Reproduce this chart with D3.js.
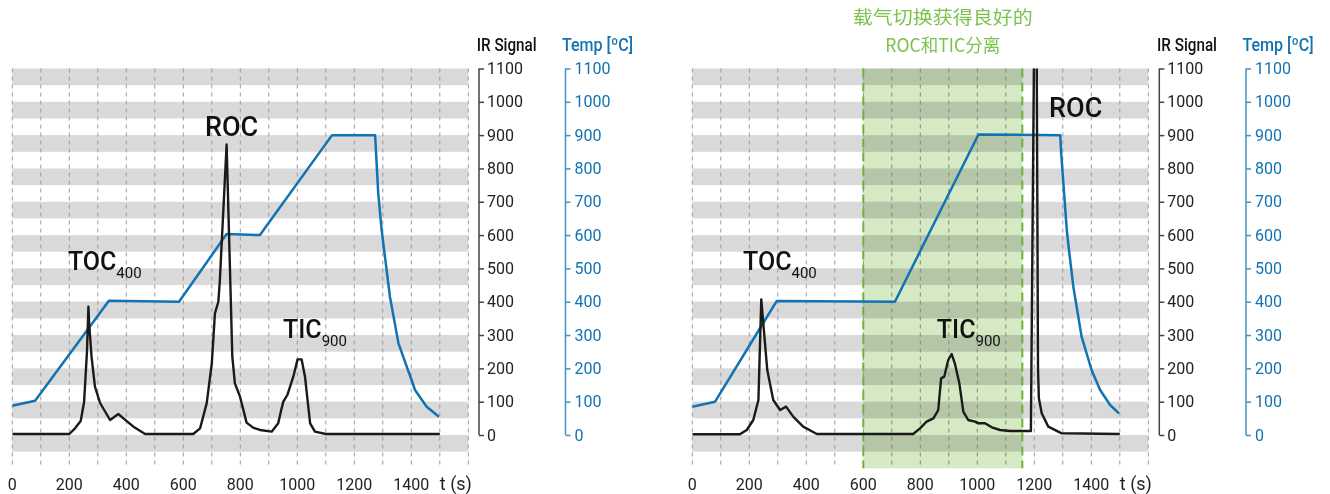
<!DOCTYPE html>
<html><head><meta charset="utf-8">
<script src="https://cdn.jsdelivr.net/npm/d3@7"></script>
<style>
html,body{margin:0;padding:0;background:#fff;}
svg{display:block;font-family:Roboto,"Noto Sans",sans-serif;}
</style></head>
<body><svg id="chart" width="1330" height="494"></svg>
<script>
// ---------- data ----------
const xTicks = [0,200,400,600,800,1000,1200,1400];
const yTicks = [0,100,200,300,400,500,600,700,800,900,1000,1100];
const xUnit = "t (s)";
const irTitle = "IR Signal";
const tempTitle = "Temp [ºC]";

// left panel
const leftIrT = [0,200,220,240,252,262,267,270,278,290,308,343,372,390,425,466,635,659,682,700,711,723,728,752,772,781,799,822,845,869,910,933,945,951,965,986,1001,1015,1027,1045,1062,1100,1500];
const leftIrV = [3,3,20,42,100,250,385,330,235,145,96,45,63,50,25,3,3,20,95,215,365,400,460,872,235,155,115,37,22,15,10,35,80,100,120,175,227,227,175,35,10,3,3];
const leftTempT = [0,80,339,585,752,869,1122,1273,1284,1296,1325,1355,1384,1401,1413,1454,1497];
const leftTempV = [88,103,403,400,603,600,900,900,725,615,415,275,205,165,135,85,55];

// right panel
const rightIrT = [0,167,191,214,232,242,263,284,308,329,354,389,437,775,799,822,846,863,873,884,898,910,921,937,951,968,992,1004,1027,1051,1080,1115,1188,1200,1208,1213,1216,1226,1249,1296,1500];
const rightIrV = [2,2,15,45,105,407,195,105,75,85,55,25,3,3,20,40,50,75,170,175,225,243,215,155,70,45,40,35,35,23,15,12,12,1250,1250,200,110,65,25,5,3];
const rightTempT = [0,80,296,711,1004,1291,1294,1314,1319,1337,1366,1401,1431,1466,1497];
const rightTempV = [85,100,402,400,902,900,850,615,575,445,295,195,135,90,65];

// annotations [text, subscript, t, value]
const leftLabels = [["TOC","400",195,495],["ROC","",676,897],["TIC","900",950,291]];
const rightLabels = [["TOC","400",178,495],["TIC","900",858,291],["ROC","",1252,954]];
const highlightRange = [600,1158];
const titleLines = ["载气切换获得良好的","ROC和TIC分离"];

// ---------- drawing ----------
const svg = d3.select("#chart");
const defs = svg.append("defs");
const black = "#1a1a1a", blue = "#1273b3", blueAxis = "#3f93c8";
const fmt = d3.format("d");

function panel(off, irT, irV, tT, tV, labels, hi, idx){
  const x = d3.scaleLinear().domain([0,1600]).range([12.3+off, 468.3+off]);
  const y = d3.scaleLinear().domain([-100,1100]).range([468.3, 68.5]);
  const g = svg.append("g");
  // bands
  for (let k=0;k<=11;k++){
    g.append("rect").attr("x",x(0)).attr("width",x(1600)-x(0))
     .attr("y",y(k*100)).attr("height",y(k*100-50)-y(k*100)).attr("fill","#d9d9d9");
  }
  // vertical grid
  g.selectAll("line.vg").data(d3.range(0,1601,100)).join("line")
   .attr("x1",d=>x(d)).attr("x2",d=>x(d)).attr("y1",y(1100)).attr("y2",y(-100))
   .attr("stroke","#9a9a9a").attr("stroke-width",1).attr("stroke-dasharray","4,4");
  // highlight
  if (hi){
    g.append("rect").attr("x",x(hi[0])).attr("width",x(hi[1])-x(hi[0]))
     .attr("y",y(1100)).attr("height",y(-100)-y(1100))
     .attr("fill","#d4e9c4").style("mix-blend-mode","multiply");
    hi.forEach(v=>g.append("line").attr("x1",x(v)).attr("x2",x(v)).attr("y1",y(1100)).attr("y2",y(-100))
      .attr("stroke","#6cb43a").attr("stroke-width",2).attr("stroke-dasharray","9,5"));
    const cx = (x(hi[0])+x(hi[1]))/2;
    g.append("text").attr("x",cx).attr("y",24).attr("text-anchor","middle")
     .attr("fill","#7cc24e").style("font-family","'Noto Sans CJK SC'").style("font-size","18.5px")
     .attr("textLength",180).attr("lengthAdjust","spacingAndGlyphs")
     .text(titleLines[0]);
    g.append("text").attr("x",cx).attr("y",51.5).attr("text-anchor","middle")
     .attr("fill","#7cc24e").style("font-family","'Noto Sans CJK SC'").style("font-size","18.5px")
     .attr("textLength",115).attr("lengthAdjust","spacingAndGlyphs")
     .text(titleLines[1]);
  }
  // clip
  const cid = "clip"+idx;
  defs.append("clipPath").attr("id",cid).append("rect")
    .attr("x",x(0)).attr("y",y(1100)).attr("width",x(1600)-x(0)).attr("height",y(-100)-y(1100));
  const line = d3.line().x(d=>x(d[0])).y(d=>y(d[1]));
  g.append("path").attr("clip-path",`url(#${cid})`).attr("d",line(tT.map((t,i)=>[t,tV[i]])))
   .attr("fill","none").attr("stroke",blue).attr("stroke-width",2.5).attr("stroke-linejoin","round");
  g.append("path").attr("clip-path",`url(#${cid})`).attr("d",line(irT.map((t,i)=>[t,irV[i]])))
   .attr("fill","none").attr("stroke",black).attr("stroke-width",2.4).attr("stroke-linejoin","round");
  // labels
  labels.forEach(([txt,sub,t,v])=>{
    const big = sub==="" ? 27 : 25;
    const tEl = g.append("text").attr("x",x(t)).attr("y",y(v)).attr("fill","#111")
      .style("font-size",big+"px").style("font-weight",500);
    tEl.append("tspan").text(txt);
    if (sub) tEl.append("tspan").attr("dy",8).style("font-size","15px").style("font-weight",400).text(sub);
  });
  // bottom axis labels
  g.selectAll("text.xt").data(xTicks).join("text").attr("class","xt")
   .attr("x",d=>x(d)).attr("y",490).attr("text-anchor","middle").attr("fill","#222")
   .style("font-size","16px").text(d=>fmt(d));
  g.append("text").attr("x",x(1500)).attr("y",490).attr("fill","#222").style("font-size","18px").text(xUnit);
  // IR axis
  const axX = 479+off+ (idx?0.3:0);
  const ir = g.append("g").attr("transform",`translate(${axX},0)`)
    .call(d3.axisRight(y).tickValues(yTicks).tickFormat(fmt).tickSize(5).tickPadding(3).tickSizeOuter(0));
  ir.select(".domain").remove();
  ir.append("line").attr("x1",0).attr("x2",0).attr("y1",y(1100)).attr("y2",y(0)).attr("stroke","#444").attr("stroke-width",1.5);
  ir.selectAll(".tick line").attr("stroke","#444").attr("stroke-width",1.5);
  ir.selectAll(".tick text").attr("fill","#222").style("font-size","16px").style("font-family","Roboto");
  g.append("text").attr("x",axX-2.3).attr("y",50.5).attr("fill","#111").style("font-size","18px").style("font-weight",500)
   .attr("textLength",60).attr("lengthAdjust","spacingAndGlyphs").text(irTitle);
  // Temp axis
  const tX = 565.5+off+(idx?0.5:0);
  const ta = g.append("g").attr("transform",`translate(${tX},0)`)
    .call(d3.axisRight(y).tickValues(yTicks).tickFormat(fmt).tickSize(5).tickPadding(4).tickSizeOuter(0));
  ta.select(".domain").remove();
  ta.append("line").attr("x1",0).attr("x2",0).attr("y1",y(1100)).attr("y2",y(0)).attr("stroke",blueAxis).attr("stroke-width",1.5);
  ta.selectAll(".tick line").attr("stroke",blueAxis).attr("stroke-width",1.5);
  ta.selectAll(".tick text").attr("fill",blue).style("font-size","16px").style("font-family","Roboto");
  g.append("text").attr("x",tX-3.5).attr("y",50.5).attr("fill",blue).style("font-size","18px").style("font-weight",500)
   .attr("textLength",71).attr("lengthAdjust","spacingAndGlyphs").text(tempTitle);
}

panel(0, leftIrT, leftIrV, leftTempT, leftTempV, leftLabels, null, 0);
panel(680, rightIrT, rightIrV, rightTempT, rightTempV, rightLabels, highlightRange, 1);
</script></body></html>
